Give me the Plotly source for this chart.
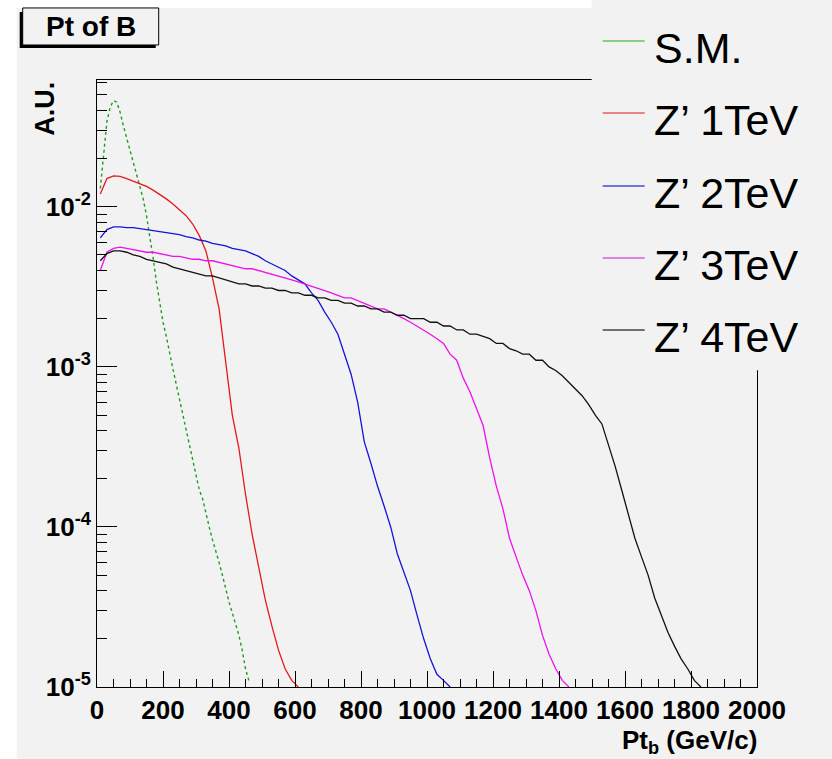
import plotly.graph_objects as go

# ---------------- data ----------------
sm_pt = [10, 20, 30, 40, 50, 60, 70, 80, 90, 100, 110, 120, 130, 140, 150, 160, 170, 180, 190, 200,
         210, 220, 230, 240, 250, 260, 270, 280, 290, 300, 310, 320, 330, 340, 350, 360, 370, 380,
         390, 400, 410, 420, 430, 440, 450, 460]
sm_val = [0.013, 0.022, 0.034, 0.042, 0.046, 0.045, 0.039, 0.032, 0.027, 0.023, 0.019, 0.016,
          0.0135, 0.0112, 0.0088, 0.0066, 0.0048, 0.0034, 0.0025, 0.0019, 0.00155, 0.0012,
          0.00097, 0.00078, 0.00063, 0.00050, 0.00040, 0.00032, 0.00026, 0.00021, 0.00017,
          0.00015, 0.00012, 0.00010, 0.000083, 0.000071, 0.000060, 0.000050, 0.000041,
          0.000034, 0.000029, 0.000025, 0.000021, 0.000017, 0.000013, 0.000011]

z1_val = [0.0120, 0.0150, 0.0156, 0.0155, 0.0150, 0.0144, 0.0139, 0.0134, 0.0127, 0.0120,
          0.0112, 0.0104, 0.0095, 0.0088, 0.0078, 0.0066, 0.0053, 0.0036, 0.0023, 0.0011,
          0.00050, 0.00031, 0.00016, 0.000090, 0.000055, 0.000035, 0.000024, 0.000017,
          0.000013, 0.000011, 0.000010]

z2_val = [0.0064, 0.0072, 0.0075, 0.0075, 0.0074, 0.0074, 0.0073, 0.0072, 0.0071, 0.0070,
          0.0069, 0.0068, 0.0067, 0.0065, 0.0064, 0.0062, 0.0061, 0.0059, 0.0058, 0.0057,
          0.0055, 0.0054, 0.0053, 0.0051, 0.0049, 0.0046, 0.0044, 0.0042, 0.0040, 0.0037,
          0.0035, 0.0033, 0.0029, 0.0026, 0.0022, 0.0019, 0.0016, 0.0012, 0.00090, 0.00060,
          0.00034, 0.00025, 0.00018, 0.000135, 0.000100, 0.000068, 0.000052, 0.000040,
          0.000028, 0.000020, 0.000015, 0.000012, 0.000011, 0.000010]

z3_val = [0.0040, 0.0052, 0.0055, 0.0056, 0.0055, 0.0054, 0.0053, 0.0052, 0.0052, 0.0051,
          0.0050, 0.0049, 0.0049, 0.0048, 0.0047, 0.0047, 0.0046, 0.0046, 0.0045, 0.0044,
          0.0043, 0.0042, 0.0041, 0.0041, 0.0040, 0.0039, 0.0038, 0.0037, 0.0036, 0.0035,
          0.0034, 0.0033, 0.0032, 0.0031, 0.0030, 0.0029, 0.0028, 0.0027, 0.0027, 0.0026,
          0.0025, 0.0024, 0.0023, 0.0023, 0.0022, 0.0021, 0.0020, 0.0019, 0.0018, 0.0017,
          0.0016, 0.0015, 0.0014, 0.0012, 0.0011, 0.00085, 0.00070, 0.00055, 0.00043,
          0.00027, 0.00018, 0.00013, 0.000085, 0.000065, 0.000050, 0.000040, 0.000030,
          0.000021, 0.000016, 0.000013, 0.000011, 0.000010]

z4_val = [0.0046, 0.0051, 0.0053, 0.0053, 0.0052, 0.0050, 0.0049, 0.0047, 0.0046, 0.0045,
          0.0044, 0.0042, 0.0041, 0.0040, 0.0039, 0.0038, 0.0037, 0.0037, 0.0036, 0.0035,
          0.0034, 0.0033, 0.0033, 0.0032, 0.0032, 0.0031, 0.0031, 0.0030, 0.0030, 0.0029,
          0.0029, 0.0028, 0.0028, 0.0027, 0.0027, 0.0026, 0.0026, 0.0025, 0.0025, 0.0024,
          0.0024, 0.0023, 0.0023, 0.0022, 0.0022, 0.0021, 0.0021, 0.0020, 0.0020, 0.0020,
          0.0019, 0.0019, 0.0018, 0.0018, 0.0017, 0.0017, 0.0016, 0.0016, 0.00155, 0.0015,
          0.0014, 0.0014, 0.0013, 0.00126, 0.0012, 0.0012, 0.0011, 0.0011, 0.0010, 0.00095,
          0.00088, 0.00080, 0.00073, 0.00066, 0.00058, 0.00050, 0.00044, 0.00033, 0.00024,
          0.00017, 0.00012, 0.000085, 0.000065, 0.000050, 0.000036, 0.000028, 0.000022,
          0.000018, 0.000015, 0.000013, 0.000011, 0.000010]

# 20 GeV bin centres for the Z' samples
z_pt = list(range(10, 2000, 20))

series_names = ["S.M.", "Z\u2019 1TeV", "Z\u2019 2TeV", "Z\u2019 3TeV", "Z\u2019 4TeV"]
x_ticks = [0, 200, 400, 600, 800, 1000, 1200, 1400, 1600, 1800, 2000]
y_ticks = [1e-5, 1e-4, 1e-3, 1e-2]
y_ticktext = ["<b>10<sup>-5</sup></b>", "<b>10<sup>-4</sup></b>",
              "<b>10<sup>-3</sup></b>", "<b>10<sup>-2</sup></b>"]

# ---------------- styling ----------------
FONT = "Liberation Sans, Arial, Helvetica, sans-serif"
BG = "#f2f2f2"
colors = ["#1e9e1e", "#e31a1a", "#1414d8", "#ee10ee", "#111111"]
legend_colors = ["#66c266", "#e86060", "#4a4ad8", "#d858d8", "#444444"]
legend_rows_px = [41, 113, 186, 258, 330]   # vertical position of each legend row (pixels)

W, H = 832, 759
L, R, T, B = 97.3, 757.3, 80.0, 686.7


def px(x):
    return (x - L) / (R - L)


def py(y):
    return (B - y) / (B - T)


fig = go.Figure()

# data curves
fig.add_trace(go.Scatter(x=sm_pt, y=sm_val, mode="lines", name=series_names[0], showlegend=False,
                         line=dict(color=colors[0], width=1.4, dash="dot")))
for vals, c, nm in zip([z1_val, z2_val, z3_val, z4_val], colors[1:], series_names[1:]):
    fig.add_trace(go.Scatter(x=z_pt[:len(vals)], y=vals, mode="lines", name=nm,
                             showlegend=False, line=dict(color=c, width=1.3)))

minor_y = [m * 10.0 ** e for e in range(-5, -1) for m in range(2, 10)]

fig.update_layout(
    width=W, height=H, autosize=False,
    margin=dict(l=L, r=W - R, t=T, b=H - B, pad=0),
    paper_bgcolor=BG, plot_bgcolor=BG,
    font=dict(family=FONT, color="black"),
    xaxis=dict(range=[0, 2000], tickvals=x_ticks, ticks="inside", ticklen=16,
               tickcolor="black", showline=True, linecolor="black", linewidth=1,
               mirror=True, showgrid=False, zeroline=False,
               tickfont=dict(size=26, family=FONT, weight="bold"),
               minor=dict(ticks="inside", ticklen=8, dtick=50, tick0=0,
                          tickcolor="black", showgrid=False)),
    yaxis=dict(type="log", range=[-5, -1.208], tickvals=y_ticks, ticktext=y_ticktext,
               ticks="inside", ticklen=20, tickcolor="black", showline=True,
               linecolor="black", linewidth=1, mirror=True, showgrid=False,
               zeroline=False, tickfont=dict(size=26, family=FONT),
               minor=dict(ticks="inside", ticklen=10, tickmode="array",
                          tickvals=minor_y, tickcolor="black", showgrid=False)),
    showlegend=False,
)

shapes = [
    # white page margins
    dict(type="rect", xref="paper", yref="paper", x0=px(0), x1=px(17), y0=py(H), y1=py(0),
         fillcolor="white", line=dict(width=0), layer="above"),
    dict(type="rect", xref="paper", yref="paper", x0=px(0), x1=px(592), y0=py(8), y1=py(0),
         fillcolor="white", line=dict(width=0), layer="above"),
    # legend pad covering the frame
    dict(type="rect", xref="paper", yref="paper", x0=px(592), x1=px(W), y0=py(370), y1=py(3),
         fillcolor=BG, line=dict(width=0), layer="above"),
    # title box shadow and box
    dict(type="rect", xref="paper", yref="paper", x0=px(20), x1=px(156), y0=py(48), y1=py(12),
         fillcolor="black", line=dict(width=0), layer="above"),
    dict(type="rect", xref="paper", yref="paper", x0=px(23), x1=px(159), y0=py(45), y1=py(8),
         fillcolor=BG, line=dict(color="black", width=1), layer="above"),
]
# legend: colour sample lines + labels
for name, c, ry in zip(series_names, legend_colors, legend_rows_px):
    shapes.append(dict(type="line", xref="paper", yref="paper", x0=px(603), x1=px(645),
                       y0=py(ry), y1=py(ry), line=dict(color=c, width=1.5), layer="above"))
    fig.add_annotation(text=name, xref="paper", yref="paper", x=px(652), y=py(ry + 7),
                       xanchor="left", yanchor="middle", showarrow=False,
                       font=dict(size=43, family=FONT, color="black"))
fig.update_layout(shapes=shapes)

fig.add_annotation(text="<b>Pt of B</b>", xref="paper", yref="paper", x=px(91), y=py(27),
                   xanchor="center", yanchor="middle", showarrow=False,
                   font=dict(size=28, family=FONT, color="black"))
fig.add_annotation(text="<b>A.U.</b>", xref="paper", yref="paper", x=px(45), y=py(80),
                   xanchor="center", yanchor="top", textangle=-90, showarrow=False,
                   font=dict(size=27, family=FONT, color="black"))
fig.add_annotation(text="<b>Pt<sub>b</sub> (GeV/c)</b>", xref="paper", yref="paper",
                   x=px(759), y=py(723), xanchor="right", yanchor="top", showarrow=False,
                   font=dict(size=26, family=FONT, color="black"))

fig.write_html("out.html", config={"displayModeBar": False},
               post_script="document.body.style.margin='0px';")
